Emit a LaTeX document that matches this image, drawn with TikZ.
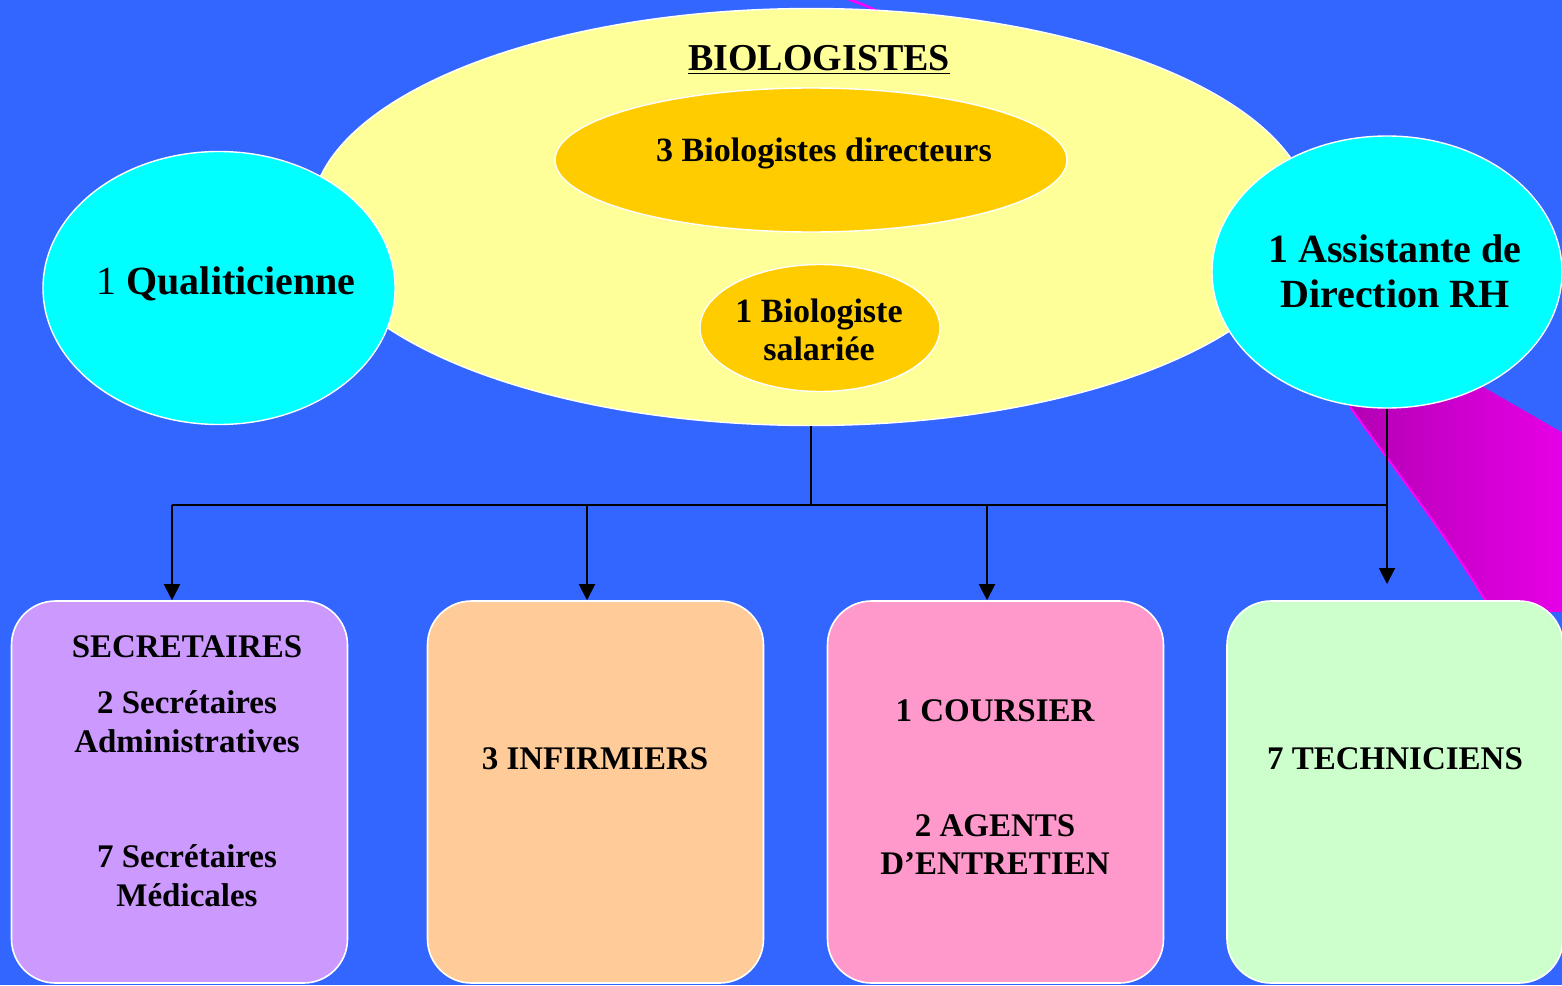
\documentclass[tikz,border=0pt]{standalone}
\usepackage{fontspec}
\setmainfont{Liberation Serif}
\usetikzlibrary{shapes.geometric,arrows.meta}
\definecolor{bgblue}{RGB}{51,102,255}
\definecolor{yel}{RGB}{255,255,153}
\definecolor{org}{RGB}{255,204,0}
\definecolor{cya}{RGB}{0,255,255}
\definecolor{bandA}{RGB}{176,0,176}
\definecolor{bandB}{RGB}{232,0,232}
\definecolor{bandE}{RGB}{255,0,255}
\definecolor{boxA}{RGB}{204,153,255}
\definecolor{boxB}{RGB}{255,204,153}
\definecolor{boxC}{RGB}{255,153,204}
\definecolor{boxD}{RGB}{204,255,204}
\tikzset{
  ell/.style={ellipse, draw=white, line width=0.7pt, inner sep=0pt},
  unit/.style={rectangle, rounded corners=22pt, draw=white, line width=0.8pt,
    minimum width=168pt, minimum height=191pt, inner sep=0pt},
  conn/.style={draw=black, line width=1pt},
  arr/.style={conn, -{Triangle[width=8pt,length=8pt]}},
  btxt/.style={anchor=base, inner sep=0pt, font=\fontsize{16.5}{19.5}\selectfont\bfseries},
  mtxt/.style={anchor=base, inner sep=0pt, font=\fontsize{17}{20}\selectfont\bfseries},
  ltxt/.style={anchor=base, inner sep=0pt, font=\fontsize{20}{22.5}\selectfont\bfseries},
}
\begin{document}
\begin{tikzpicture}[x=0.5pt,y=-0.5pt]
\useasboundingbox (0,0) rectangle (1562,985);
\clip (0,0) rectangle (1562,985);
\fill[bgblue] (0,0) rectangle (1562,985);
% magenta band (top sliver)
\fill[bandE] (842,-2) .. controls (950,40) .. (1000,80) -- (1000,90) .. controls (950,40) .. (850,-2) -- cycle;
% magenta band (lower right)
\shade[left color=bandA, right color=bandB]
  (1335,385) -- (1350,407) .. controls (1410,490) and (1450,540) .. (1492,612)
  -- (1570,612) -- (1570,437) -- (1485,388) -- (1440,360) -- cycle;
\draw[bandE, line width=1pt] (1350,407) .. controls (1410,490) and (1450,540) .. (1492,612);
% ellipses
\node[ell, fill=yel, minimum width=500pt, minimum height=208.5pt] (bio) at (811,217) {};
\node[ell, fill=org, minimum width=256pt, minimum height=72pt] (dir) at (811,160) {};
\node[ell, fill=org, minimum width=120pt, minimum height=63.5pt] (sal) at (820,328) {};
\node[ell, fill=cya, minimum width=176pt, minimum height=136.5pt] (qual) at (219,288) {};
\node[ell, fill=cya, minimum width=175pt, minimum height=136pt] (rh) at (1387,272) {};
% boxes
\node[unit, fill=boxA] (b1) at (179.5,792) {};
\node[unit, fill=boxB] (b2) at (595.5,792) {};
\node[unit, fill=boxC] (b3) at (995.5,792) {};
\node[unit, fill=boxD] (b4) at (1395,792) {};
% junctions
\coordinate (jc) at (811,505);
\coordinate (j1) at (172,505);
\coordinate (j2) at (587,505);
\coordinate (j3) at (987,505);
\coordinate (j4) at (1387,505);
\coordinate (a4) at (1387,584);
\draw[conn] (bio.south) -- (jc);
\draw[conn] (j1) -- (j4);
\draw[arr] (rh.south) -- (a4);
\draw[arr] (j1) -- (j1 |- b1.north);
\draw[arr] (j2) -- (j2 |- b2.north);
\draw[arr] (j3) -- (j3 |- b3.north);
% texts in ellipses
\node[ltxt, font=\fontsize{19}{22}\selectfont\bfseries] (tbio) at (819,70) {\underline{BIOLOGISTES}};
\node[mtxt] (tdir) at (824,161) {3 Biologistes directeurs};
\node[mtxt] (tsal1) at (819,322) {1 Biologiste};
\node[mtxt] (tsal2) at (819,360) {salariée};
\node[ltxt] (tqual) at (226,294) {\mdseries 1 \bfseries Qualiticienne};
\node[ltxt] (trh1) at (1395,262) {1 Assistante de};
\node[ltxt] (trh2) at (1395,307) {Direction RH};
% texts in boxes
\node[btxt] (t11) at (187,657) {SECRETAIRES};
\node[btxt] (t12) at (187,713) {2 Secrétaires};
\node[btxt] (t13) at (187,752) {Administratives};
\node[btxt] (t14) at (187,867) {7 Secrétaires};
\node[btxt] (t15) at (187,906) {Médicales};
\node[btxt] (t21) at (595,769) {3 INFIRMIERS};
\node[btxt] (t31) at (995,721) {1 COURSIER};
\node[btxt] (t32) at (995,836) {2 AGENTS};
\node[btxt] (t33) at (995,874) {D’ENTRETIEN};
\node[btxt] (t41) at (1395,769) {7 TECHNICIENS};
\end{tikzpicture}
\end{document}
